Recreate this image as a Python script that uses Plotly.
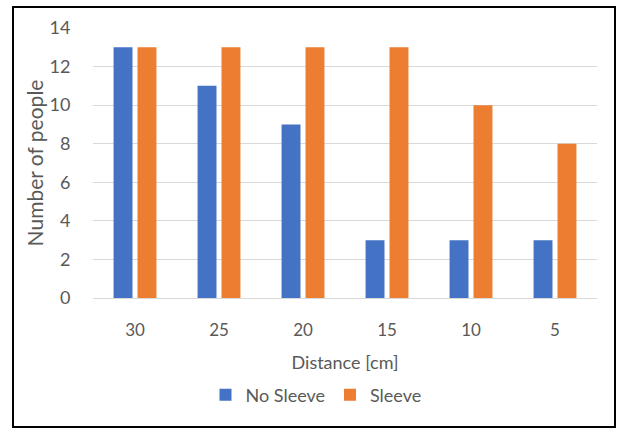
import plotly.graph_objects as go

# Survey counts by distance
distances = ["30", "25", "20", "15", "10", "5"]
no_sleeve = [13, 11, 9, 3, 3, 3]
sleeve = [13, 13, 13, 13, 10, 8]

W, H = 619, 429
L, R, T, B = 93, 22, 28, 131
pw, ph = W - L - R, H - T - B

font_family = "Lato"
text_grey = "#595959"
clear = "rgba(0,0,0,0)"

fig = go.Figure()
fig.add_trace(go.Bar(x=distances, y=no_sleeve, name="No Sleeve",
                     marker=dict(color="#4472C4", line=dict(width=0))))
fig.add_trace(go.Bar(x=distances, y=sleeve, name="Sleeve",
                     marker=dict(color="#ED7D31", line=dict(width=0))))


# outer chart frame, expressed in paper units of the plot area
def px_x(v):
    return (v - L) / pw


def px_y(v):
    return (H - B - v) / ph


fig.add_shape(type="rect", xref="paper", yref="paper",
              x0=px_x(13), x1=px_x(615), y0=px_y(427), y1=px_y(7),
              line=dict(color="black", width=2), fillcolor=clear)

fig.update_layout(
    width=W, height=H,
    margin=dict(l=L, r=R, t=T, b=B),
    paper_bgcolor="white", plot_bgcolor="white",
    barmode="group", bargap=0.43, bargroupgap=0.21,
    font=dict(family=font_family, color=text_grey, size=18),
    showlegend=True,
    legend=dict(orientation="h", x=px_x(316), xanchor="center",
                y=px_y(395), yanchor="middle",
                font=dict(size=18, color=text_grey), itemwidth=30),
    xaxis=dict(
        title=dict(text="Distance [cm]", font=dict(size=18, color=text_grey), standoff=16),
        tickfont=dict(size=17, color=text_grey),
        showgrid=False, showline=False,
        ticks="outside", ticklen=17, tickcolor=clear,
    ),
    yaxis=dict(
        title=dict(text="Number of people", font=dict(size=21, color=text_grey), standoff=0),
        range=[0, 14], dtick=2,
        tickfont=dict(size=18, color=text_grey),
        showgrid=True, gridcolor="#D9D9D9", gridwidth=1,
        zeroline=True, zerolinecolor="#D9D9D9", zerolinewidth=1,
        showline=False, ticks="outside", ticklen=18, tickcolor=clear,
    ),
)

fig.write_html("out.html")
